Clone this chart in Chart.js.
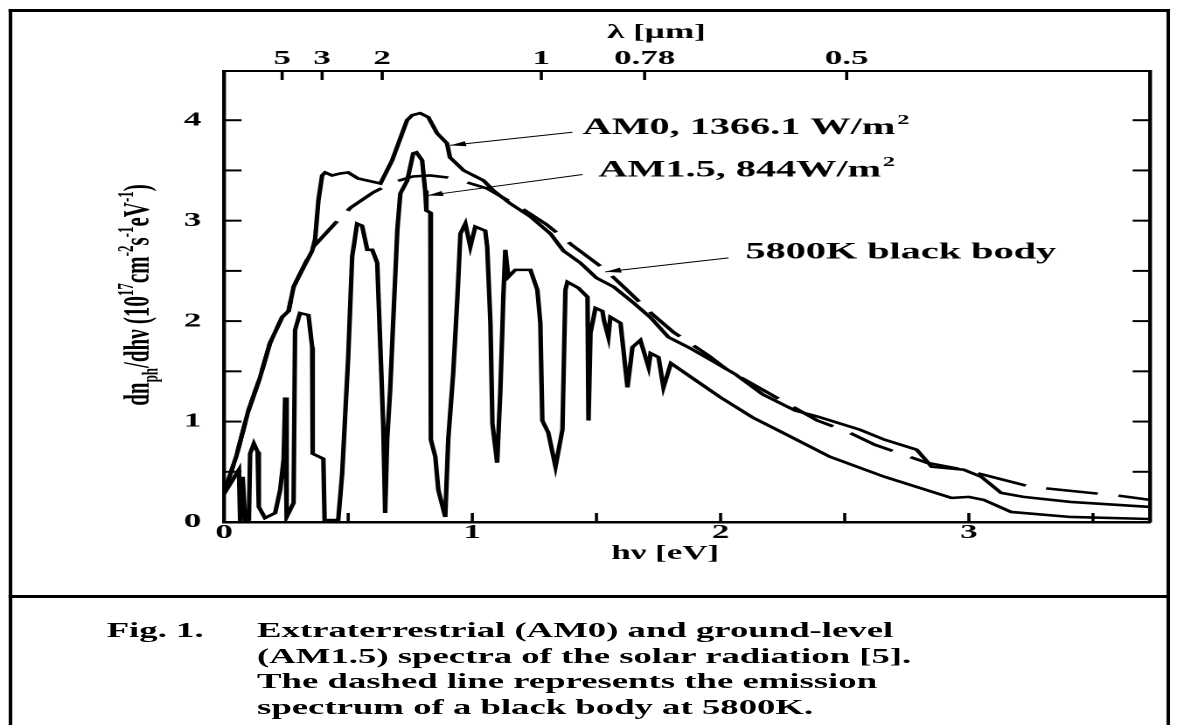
<!DOCTYPE html>
<html>
<head>
<meta charset="utf-8">
<script src="https://cdn.jsdelivr.net/npm/chart.js@4.4.0/dist/chart.umd.min.js"></script>
<style>
html, body { margin: 0; padding: 0; background: #fff; width: 1177px; height: 725px; overflow: hidden; }
/* the scanned figure is stretched sideways, so the whole page is drawn narrow and widened */
#wrap { position: absolute; left: 0; top: 0; width: 673px; height: 725px; transform: scaleX(1.7489); transform-origin: 0 0; }
#frame { position: absolute; left: 4.5px; top: 9px; width: 664.5px; height: 740px; box-sizing: border-box; border: solid #000; border-width: 3px 2px 0 2px; }
#sep { position: absolute; left: 4.5px; top: 595px; width: 664.5px; border-top: 3px solid #000; }
#chart { position: absolute; left: 0; top: 0; }
.cap { position: absolute; font-family: 'Liberation Serif', 'Times New Roman', serif; font-weight: bold; font-size: 21px; line-height: 25.5px; color: #000; white-space: nowrap; }
</style>
</head>
<body>
<div id="wrap">
  <div id="frame"></div>
  <div id="sep"></div>
  <canvas id="chart" width="673" height="597"></canvas>
  <div class="cap" style="left:61px; top:618px;">Fig. 1.</div>
  <div class="cap" style="left:147px; top:618px;">Extraterrestrial (AM0) and ground-level<br>(AM1.5) spectra of the solar radiation [5].<br>The dashed line represents the emission<br>spectrum of a black body at 5800K.</div>
</div>
<script>
// photon energy hν [eV] and photon flux dn/dhν [1e17 cm^-2 s^-1 eV^-1]

// AM0, extraterrestrial
const am0Energy = [0.0, 0.011, 0.05, 0.097, 0.145, 0.185, 0.234, 0.26, 0.28, 0.30, 0.355, 0.367, 0.38, 0.395, 0.407, 0.435, 0.468, 0.5, 0.54, 0.63, 0.677, 0.71, 0.737, 0.758, 0.79, 0.823, 0.858, 0.898, 0.91, 0.965, 1.045, 1.085, 1.153, 1.234, 1.315, 1.367, 1.435, 1.5, 1.57, 1.65, 1.72, 1.79, 1.87, 1.97, 2.06, 2.17, 2.30, 2.39, 2.56, 2.66, 2.79, 2.85, 2.98, 3.05, 3.13, 3.22, 3.41, 3.73];
const am0Flux = [0.28, 0.37, 0.66, 1.1, 1.44, 1.78, 2.04, 2.1, 2.34, 2.44, 2.7, 2.82, 3.2, 3.45, 3.48, 3.45, 3.47, 3.48, 3.42, 3.37, 3.6, 3.82, 4.0, 4.05, 4.07, 4.03, 3.87, 3.77, 3.63, 3.5, 3.4, 3.3, 3.17, 3.04, 2.87, 2.7, 2.58, 2.43, 2.34, 2.18, 2.03, 1.84, 1.74, 1.6, 1.47, 1.27, 1.11, 1.05, 0.92, 0.82, 0.72, 0.55, 0.52, 0.45, 0.29, 0.25, 0.2, 0.15];

// AM1.5, ground level
const am15Energy = [0.0, 0.06, 0.065, 0.075, 0.085, 0.1, 0.105, 0.12, 0.135, 0.14, 0.165, 0.206, 0.226, 0.24, 0.246, 0.252, 0.28, 0.286, 0.306, 0.34, 0.355, 0.357, 0.4, 0.405, 0.46, 0.476, 0.5, 0.516, 0.536, 0.556, 0.577, 0.597, 0.617, 0.629, 0.641, 0.649, 0.657, 0.669, 0.681, 0.698, 0.71, 0.738, 0.762, 0.775, 0.798, 0.81, 0.815, 0.831, 0.831, 0.835, 0.851, 0.863, 0.891, 0.903, 0.923, 0.94, 0.952, 0.972, 0.992, 1.012, 1.052, 1.06, 1.073, 1.081, 1.1, 1.113, 1.125, 1.133, 1.145, 1.173, 1.234, 1.262, 1.274, 1.282, 1.306, 1.335, 1.363, 1.375, 1.383, 1.427, 1.464, 1.468, 1.476, 1.496, 1.524, 1.53, 1.548, 1.556, 1.597, 1.625, 1.645, 1.677, 1.71, 1.718, 1.75, 1.77, 1.8, 1.9, 2.0, 2.13, 2.25, 2.44, 2.66, 2.93, 3.0, 3.06, 3.17, 3.41, 3.73];
const am15Flux = [0.28, 0.52, 0.0, 0.45, 0.0, 0.02, 0.68, 0.78, 0.7, 0.15, 0.04, 0.09, 0.32, 0.62, 1.24, 0.05, 0.19, 1.91, 2.08, 2.06, 1.74, 0.68, 0.63, 0.02, 0.02, 0.49, 1.64, 2.64, 2.97, 2.95, 2.71, 2.71, 2.58, 1.78, 0.98, 0.09, 0.82, 1.31, 1.98, 2.91, 3.27, 3.4, 3.67, 3.68, 3.6, 3.3, 3.1, 3.08, 1.18, 0.82, 0.65, 0.32, 0.05, 0.82, 1.48, 2.24, 2.87, 2.97, 2.74, 2.94, 2.9, 2.74, 1.98, 0.98, 0.59, 1.31, 2.24, 2.71, 2.44, 2.51, 2.51, 2.31, 1.98, 1.01, 0.89, 0.55, 0.92, 2.31, 2.39, 2.33, 2.24, 1.01, 1.88, 2.13, 2.1, 2.01, 1.84, 2.04, 1.98, 1.34, 1.74, 1.81, 1.54, 1.68, 1.64, 1.34, 1.58, 1.41, 1.24, 1.04, 0.89, 0.65, 0.45, 0.24, 0.25, 0.22, 0.1, 0.05, 0.03];

// 5800 K black body (dashed); below 0.36 eV it runs on top of the AM0 line
const bbEnergy = [0.0, 0.011, 0.05, 0.097, 0.145, 0.185, 0.234, 0.26, 0.28, 0.30, 0.36, 0.45, 0.51, 0.6, 0.68, 0.76, 0.83, 0.9, 0.98, 1.06, 1.2, 1.3, 1.4, 1.536, 1.61, 1.72, 1.81, 1.95, 2.03, 2.21, 2.39, 2.51, 2.62, 2.83, 2.98, 3.25, 3.45, 3.61, 3.73];
const bbFlux = [0.28, 0.37, 0.66, 1.1, 1.44, 1.78, 2.04, 2.1, 2.34, 2.44, 2.74, 2.98, 3.13, 3.28, 3.38, 3.44, 3.45, 3.43, 3.38, 3.32, 3.12, 2.96, 2.76, 2.51, 2.34, 2.08, 1.89, 1.66, 1.51, 1.26, 1.01, 0.9, 0.77, 0.59, 0.52, 0.35, 0.3, 0.26, 0.22];

// wavelength axis on top: where each λ tick sits on the hν scale, and its label
const topTickEnergy = [0.234, 0.395, 0.637, 1.278, 1.694, 2.508];
const topTickLabels = ['5', '3', '2', '1', '0.78', '0.5'];

const X_MAX = 3.73;
const Y_MAX = 4.49;
const SERIF = "'Liberation Serif', 'Times New Roman', serif";
const NBSP = '\u00a0';

// annotation layout (data coordinates)
const notes = [
  { text: 'AM0, 1366.1 W/m', sup: '2', at: [1.444, 3.92], from: [1.403, 3.88], to: [0.911, 3.75] },
  { text: 'AM1.5, 844W/m', sup: '2', at: [1.508, 3.50], from: [1.444, 3.46], to: [0.819, 3.25] },
  { text: '5800K black body', sup: '', at: [2.10, 2.68], from: [2.032, 2.63], to: [1.536, 2.49] }
];

function toPoints(xs, ys) {
  return xs.map((v, i) => ({ x: v, y: ys[i] }));
}

function isWhole(v) {
  return Math.abs(v - Math.round(v)) < 1e-9;
}

// tick marks point into the plot
const insideTicks = {
  id: 'insideTicks',
  afterDraw(chart) {
    const ctx = chart.ctx;
    const { left, right, top, bottom } = chart.chartArea;
    ctx.save();
    ctx.strokeStyle = '#000';

    ctx.lineWidth = 2;
    ['y', 'yRight'].forEach(id => {
      const s = chart.scales[id];
      s.ticks.forEach(t => {
        if (t.value <= 0 || t.value >= Y_MAX) return;
        const py = s.getPixelForValue(t.value);
        ctx.beginPath();
        if (id === 'y') { ctx.moveTo(left, py); ctx.lineTo(left + 10, py); }
        else { ctx.moveTo(right, py); ctx.lineTo(right - 10, py); }
        ctx.stroke();
      });
    });

    ctx.lineWidth = 1.8;
    chart.scales.x.ticks.forEach(t => {
      if (t.value <= 0 || t.value >= X_MAX) return;
      const px = chart.scales.x.getPixelForValue(t.value);
      ctx.beginPath();
      ctx.moveTo(px, bottom);
      ctx.lineTo(px, bottom - 9);
      ctx.stroke();
    });
    chart.scales.xTop.ticks.forEach(t => {
      const px = chart.scales.xTop.getPixelForValue(t.value);
      ctx.beginPath();
      ctx.moveTo(px, top);
      ctx.lineTo(px, top + 9);
      ctx.stroke();
    });
    ctx.restore();
  }
};

// y title with sub- and superscripts, turned on its side
const yTitle = {
  id: 'yTitle',
  afterDraw(chart) {
    const ctx = chart.ctx;
    const parts = [['dn', 0], ['ph', 1], ['/dh\u03bd (10', 0], ['17', 2], ['cm', 0], ['-2', 2], ['s', 0], ['-1', 2], ['eV', 0], ['-1', 2], [')', 0]];
    const big = 'bold 21px ' + SERIF;
    const small = 'bold 13px ' + SERIF;
    ctx.save();
    let total = 0;
    parts.forEach(p => {
      ctx.font = p[1] ? small : big;
      total += ctx.measureText(p[0]).width;
    });
    ctx.translate(78, 295);
    ctx.rotate(-Math.PI / 2);
    ctx.fillStyle = '#000';
    ctx.textBaseline = 'alphabetic';
    ctx.textAlign = 'left';
    let cx = -total / 2;
    parts.forEach(p => {
      ctx.font = p[1] ? small : big;
      const dy = p[1] === 1 ? 5 : (p[1] === 2 ? -9 : 0);
      ctx.fillText(p[0], cx, 7 + dy);
      cx += ctx.measureText(p[0]).width;
    });
    ctx.restore();
  }
};

// labels with arrows pointing at the curves
const arrowNotes = {
  id: 'arrowNotes',
  afterDraw(chart) {
    const ctx = chart.ctx;
    const sx = chart.scales.x;
    const sy = chart.scales.y;
    ctx.save();
    ctx.strokeStyle = '#000';
    ctx.fillStyle = '#000';
    notes.forEach(n => {
      const x1 = sx.getPixelForValue(n.from[0]);
      const y1 = sy.getPixelForValue(n.from[1]);
      const x2 = sx.getPixelForValue(n.to[0]);
      const y2 = sy.getPixelForValue(n.to[1]);
      ctx.lineWidth = 1;
      ctx.beginPath();
      ctx.moveTo(x1, y1);
      ctx.lineTo(x2, y2);
      ctx.stroke();
      const ang = Math.atan2(y2 - y1, x2 - x1);
      const len = 9, half = 2.6;
      ctx.beginPath();
      ctx.moveTo(x2, y2);
      ctx.lineTo(x2 - len * Math.cos(ang) + half * Math.sin(ang), y2 - len * Math.sin(ang) - half * Math.cos(ang));
      ctx.lineTo(x2 - len * Math.cos(ang) - half * Math.sin(ang), y2 - len * Math.sin(ang) + half * Math.cos(ang));
      ctx.closePath();
      ctx.fill();

      const tx = sx.getPixelForValue(n.at[0]);
      const ty = sy.getPixelForValue(n.at[1]);
      ctx.font = 'bold 23px ' + SERIF;
      ctx.textBaseline = 'middle';
      ctx.textAlign = 'left';
      ctx.fillText(n.text, tx, ty);
      if (n.sup) {
        const w = ctx.measureText(n.text).width;
        ctx.font = 'bold 14px ' + SERIF;
        ctx.fillText(n.sup, tx + w + 1, ty - 8);
      }
    });
    ctx.restore();
  }
};

const tickFont = { family: SERIF, size: 20, weight: 'bold' };

function lineSet(label, xs, ys, dash) {
  return {
    label: label,
    data: toPoints(xs, ys),
    borderColor: '#000',
    borderWidth: 2.6,
    borderDash: dash,
    pointRadius: 0,
    fill: false,
    tension: 0
  };
}

const ctx = document.getElementById('chart').getContext('2d');
new Chart(ctx, {
  type: 'line',
  data: {
    datasets: [
      lineSet('5800K black body', bbEnergy, bbFlux, [30, 12]),
      lineSet('AM0, 1366.1 W/m2', am0Energy, am0Flux, []),
      lineSet('AM1.5, 844W/m2', am15Energy, am15Flux, [])
    ]
  },
  options: {
    responsive: false,
    devicePixelRatio: 2,
    animation: false,
    events: [],
    layout: { padding: 0 },
    plugins: {
      legend: { display: false },
      tooltip: { enabled: false }
    },
    scales: {
      x: {
        type: 'linear',
        position: 'bottom',
        min: 0,
        max: X_MAX,
        grid: { display: false },
        border: { display: true, color: '#000', width: 2.5 },
        ticks: {
          stepSize: 0.5,
          includeBounds: false,
          autoSkip: false,
          maxRotation: 0,
          padding: -9,
          color: '#000',
          font: tickFont,
          callback: v => isWhole(v) ? String(Math.round(v)) : ''
        },
        // trailing spaces pull the centred title left, as in the scan
        title: { display: true, text: 'h\u03bd [eV]' + NBSP.repeat(5), color: '#000', font: tickFont, padding: { top: 0, bottom: 31 } },
        afterFit: s => { s.height = 75; }
      },
      xTop: {
        type: 'linear',
        position: 'top',
        min: 0,
        max: X_MAX,
        grid: { display: false },
        border: { display: true, color: '#000', width: 2 },
        afterBuildTicks: s => { s.ticks = topTickEnergy.map(v => ({ value: v })); },
        ticks: {
          autoSkip: false,
          maxRotation: 0,
          padding: -8,
          color: '#000',
          font: tickFont,
          callback: (v, i) => topTickLabels[i]
        },
        title: { display: true, text: '\u03bb [\u00b5m]' + NBSP.repeat(7), color: '#000', font: tickFont, padding: { top: 21, bottom: 0 } },
        afterFit: s => { s.height = 71; }
      },
      y: {
        type: 'linear',
        position: 'left',
        min: 0,
        max: Y_MAX,
        grid: { display: false },
        border: { display: true, color: '#000', width: 2.2 },
        ticks: {
          stepSize: 0.5,
          includeBounds: false,
          autoSkip: false,
          padding: 5,
          color: '#000',
          font: tickFont,
          callback: v => isWhole(v) ? String(Math.round(v)) : ''
        },
        afterFit: s => { s.width = 128.1; }
      },
      yRight: {
        type: 'linear',
        position: 'right',
        min: 0,
        max: Y_MAX,
        grid: { display: false },
        border: { display: true, color: '#000', width: 2.2 },
        ticks: { display: false, stepSize: 0.5, includeBounds: false },
        afterFit: s => { s.width = 15.4; }
      }
    }
  },
  plugins: [insideTicks, yTitle, arrowNotes]
});
</script>
</body>
</html>
